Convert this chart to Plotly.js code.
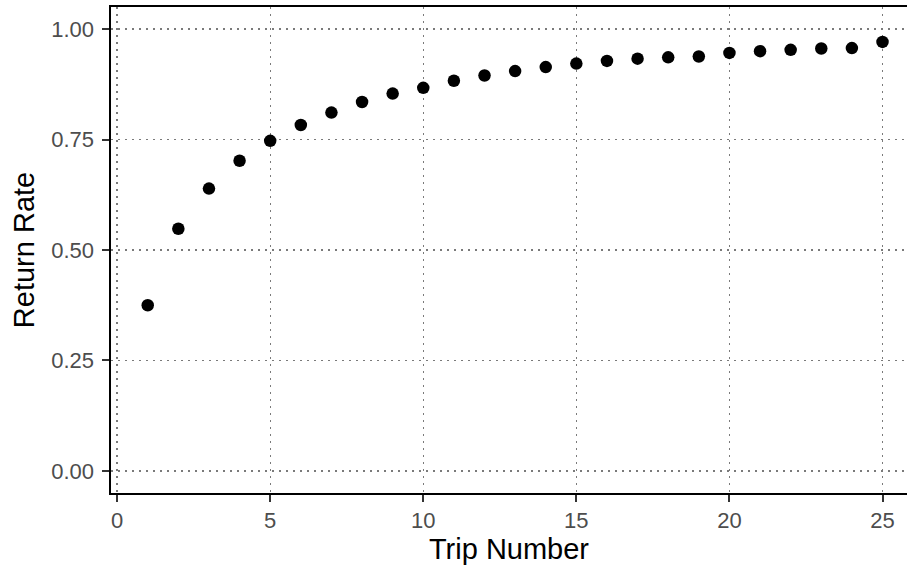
<!DOCTYPE html>
<html>
<head>
<meta charset="utf-8">
<script src="https://cdn.plot.ly/plotly-3.0.1.min.js"></script>
<style>html,body{margin:0;padding:0;background:#fff;}#chart{width:907px;height:565px;}</style>
</head>
<body>
<div id="chart"></div>
<script>
const tripNumber = [1,2,3,4,5,6,7,8,9,10,11,12,13,14,15,16,17,18,19,20,21,22,23,24,25];
const returnRate = [0.375,0.548,0.639,0.702,0.747,0.783,0.811,0.835,0.854,0.867,0.883,0.895,0.905,0.914,0.922,0.928,0.933,0.936,0.938,0.946,0.950,0.953,0.956,0.957,0.971];
const xTicks = [0,5,10,15,20,25];
const yTicks = [0,0.25,0.5,0.75,1];
const yTickText = ["0.00","0.25","0.50","0.75","1.00"];

const trace = {
  x: tripNumber, y: returnRate, type: 'scatter', mode: 'markers',
  marker: {color: '#000000', size: 12.5}, hoverinfo: 'none'
};
const font = {family: 'Liberation Sans, Arial, sans-serif'};
const gridDash = '1.5px,5.5px';
const layout = {
  width: 907, height: 565,
  margin: {l: 111, r: 0, t: 7, b: 72},
  paper_bgcolor: '#ffffff', plot_bgcolor: '#ffffff',
  showlegend: false,
  font: font,
  xaxis: {
    range: [-0.2, 25.8], tickvals: xTicks, ticktext: xTicks.map(String),
    showgrid: true, gridcolor: '#7a7a7a', griddash: gridDash, gridwidth: 1.3,
    zeroline: false, showline: true, linecolor: '#000000', linewidth: 1.6, mirror: true,
    ticks: 'outside', ticklen: 7, tickwidth: 2, tickcolor: '#333333',
    tickfont: {family: font.family, size: 22, color: '#4d4d4d'},
    title: {text: 'Trip Number', font: {family: font.family, size: 29, color: '#000000'}, standoff: 4}
  },
  yaxis: {
    range: [-0.05, 1.05], tickvals: yTicks, ticktext: yTickText,
    showgrid: true, gridcolor: '#7a7a7a', griddash: gridDash, gridwidth: 1.3,
    zeroline: false, showline: true, linecolor: '#000000', linewidth: 1.6,
    ticks: 'outside', ticklen: 7, tickwidth: 2, tickcolor: '#333333',
    ticklabelstandoff: 4,
    tickfont: {family: font.family, size: 22, color: '#4d4d4d'},
    title: {text: 'Return Rate', font: {family: font.family, size: 29, color: '#000000'}, standoff: 8}
  }
};
Plotly.newPlot('chart', [trace], layout, {displayModeBar: false, staticPlot: true});
</script>
</body>
</html>
